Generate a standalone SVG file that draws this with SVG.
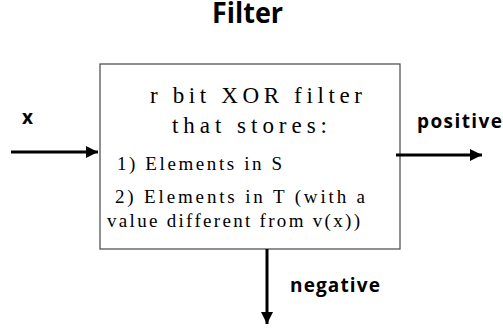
<svg xmlns="http://www.w3.org/2000/svg" width="503" height="332" viewBox="0 0 503 332">
<style>
.lbl{font-family:"Open Sans","Noto Sans",sans-serif;font-weight:bold;fill:#000}
.mono{font-family:"Liberation Serif","DejaVu Serif",serif;fill:#000}
.conn{stroke:#000;stroke-width:3;fill:none}
</style>
<defs>
<marker id="ah" viewBox="0 0 10 10" refX="10" refY="5" markerWidth="4" markerHeight="4" orient="auto" markerUnits="strokeWidth">
<path d="M0,0 L10,5 L0,10 z" fill="#000"/>
</marker>
</defs>
<rect width="503" height="332" fill="#fff"/>
<text class="lbl" x="212" y="23" font-size="28" textLength="71" lengthAdjust="spacingAndGlyphs">Filter</text>
<g id="filter">
<rect x="100" y="64" width="300" height="185" fill="#fff" stroke="#555" stroke-width="1.3"/>
<text class="mono" x="150" y="103" font-size="23" textLength="212" lengthAdjust="spacing">r bit XOR filter</text>
<text class="mono" x="172" y="133" font-size="23" textLength="155" lengthAdjust="spacing">that stores:</text>
<text class="mono" x="117" y="170" font-size="19" textLength="165" lengthAdjust="spacing">1) Elements in S</text>
<text class="mono" x="115" y="203" font-size="19" textLength="250" lengthAdjust="spacing">2) Elements in T (with a</text>
<text class="mono" x="107" y="227" font-size="19" textLength="253" lengthAdjust="spacing">value different from v(x))</text>
</g>
<g id="connectors">
<line class="conn" x1="11" y1="152" x2="98" y2="152" marker-end="url(#ah)"/>
<line class="conn" x1="396" y1="155" x2="482" y2="155" marker-end="url(#ah)"/>
<line class="conn" x1="267" y1="249" x2="267" y2="324" marker-end="url(#ah)"/>
</g>
<text class="lbl" x="22" y="124" font-size="19">x</text>
<text class="lbl" x="417" y="128" font-size="19" textLength="85">positive</text>
<text class="lbl" x="290" y="292" font-size="19" textLength="90">negative</text>
</svg>
